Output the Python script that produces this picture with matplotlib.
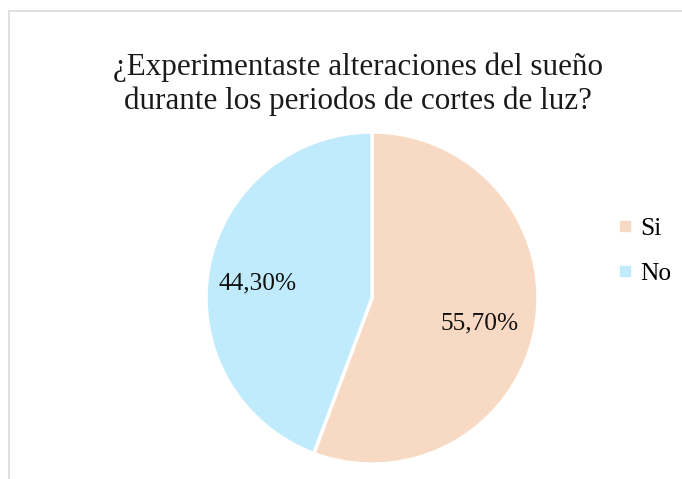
import matplotlib.pyplot as plt
from matplotlib.lines import Line2D
from matplotlib.patches import Rectangle

categories = ['Si', 'No']
values = [55.70, 44.30]
colors = ['#F8D9C3', '#C0EBFC']
title = '¿Experimentaste alteraciones del sueño\ndurante los periodos de cortes de luz?'

plt.rcParams['font.family'] = ['Liberation Serif', 'DejaVu Serif']

W, H = 682, 479
fig = plt.figure(figsize=(W / 100, H / 100), dpi=100)

# chart frame (only top and left edges visible)
fig.patches.append(Rectangle((9 / W, -0.2), 1.5, 1.2 - 11 / H, transform=fig.transFigure,
                             fill=False, edgecolor='#d9d9d9', linewidth=1.2))

cx, cy, r = 372, 298, 166
ax = fig.add_axes([(cx - r) / W, (H - cy - r) / H, 2 * r / W, 2 * r / H])
wedges, texts, autotexts = ax.pie(
    values, colors=colors, startangle=90, counterclock=False,
    autopct=lambda p: f'{p:.2f}%'.replace('.', ','), pctdistance=0.68,
    wedgeprops=dict(edgecolor='white', linewidth=2.5),
    textprops=dict(fontsize=18.3, color='#111111'))
# nudge labels slightly down/left like Excel's placement
for t in autotexts:
    x, y = t.get_position()
    t.set_position((x - 0.02, y - 0.035))
ax.set_xlim(-1, 1)
ax.set_ylim(-1, 1)
ax.set_aspect('equal')
ax.axis('off')

fig.text(358 / W, 1 - 84 / H, title, ha='center', va='center', fontsize=22.4,
         color='#1a1a1a', linespacing=1.22)

handles = [Line2D([], [], marker='s', linestyle='none', markersize=6.5,
                  markerfacecolor=c, markeredgecolor=c) for c in colors]
fig.legend(handles, categories, loc='center left', bbox_to_anchor=(589 / W, 1 - 251 / H),
           frameon=False, fontsize=18.3, handletextpad=0.1, labelspacing=0.85,
           handlelength=1.0)

fig.savefig('out.png', dpi=100)
